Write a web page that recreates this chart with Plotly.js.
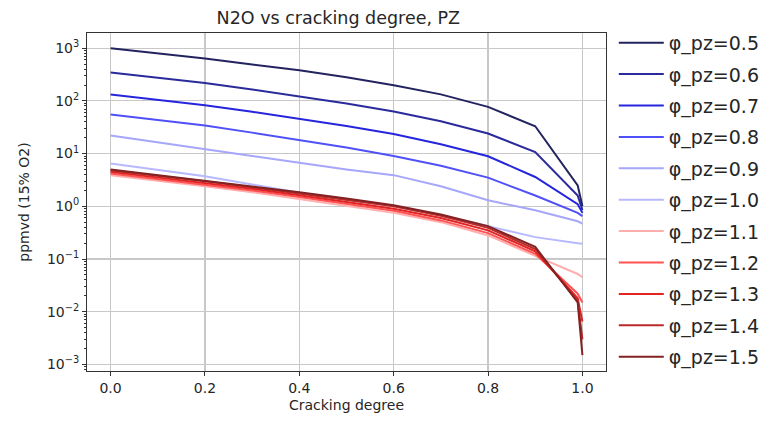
<!DOCTYPE html>
<html>
<head>
<meta charset="utf-8">
<script src="https://cdn.plot.ly/plotly-3.0.1.min.js"></script>
<style>html,body{margin:0;padding:0;background:#fff;}#chart{width:769px;height:425px;}</style>
</head>
<body>
<div id="chart"></div>
<script>
// Cracking degree values (x)
const crackingDegree = [0, 0.1, 0.2, 0.3, 0.4, 0.5, 0.6, 0.7, 0.8, 0.9, 0.99, 1.0];

// N2O (ppmvd, 15% O2) for each phi_pz
const phi05 = [1000, 800, 635, 490, 380, 280, 198, 133, 77, 33, 2.5, 1.0];
const phi06 = [344, 275, 218, 165, 122, 89, 63, 41, 24, 10.7, 1.6, 0.85];
const phi07 = [132, 105, 83, 62, 46, 33.5, 23.5, 15, 8.9, 3.6, 1.1, 0.75];
const phi08 = [55, 43, 34, 25, 18, 13, 9.0, 5.9, 3.5, 1.6, 0.75, 0.65];
const phi09 = [22, 16.5, 12.4, 9.0, 6.7, 5.0, 3.9, 2.4, 1.3, 0.84, 0.52, 0.47];
const phi10 = [6.5, 4.9, 3.7, 2.6, 1.8, 1.35, 1.0, 0.68, 0.42, 0.26, 0.2, 0.195];
const phi11 = [3.9, 3.1, 2.4, 1.85, 1.38, 1.03, 0.75, 0.5, 0.28, 0.115, 0.052, 0.045];
const phi12 = [4.2, 3.3, 2.6, 2.0, 1.5, 1.12, 0.82, 0.54, 0.31, 0.125, 0.022, 0.015];
const phi13 = [4.5, 3.55, 2.8, 2.15, 1.62, 1.22, 0.9, 0.6, 0.35, 0.14, 0.018, 0.0065];
const phi14 = [4.8, 3.8, 3.0, 2.3, 1.75, 1.33, 1.0, 0.66, 0.39, 0.155, 0.016, 0.003];
const phi15 = [5.0, 3.9, 3.1, 2.4, 1.85, 1.4, 1.05, 0.7, 0.42, 0.17, 0.015, 0.0015];

const seriesNames = ["φ_pz=0.5","φ_pz=0.6","φ_pz=0.7","φ_pz=0.8","φ_pz=0.9","φ_pz=1.0","φ_pz=1.1","φ_pz=1.2","φ_pz=1.3","φ_pz=1.4","φ_pz=1.5"];
const seriesValues = [phi05, phi06, phi07, phi08, phi09, phi10, phi11, phi12, phi13, phi14, phi15];
const seriesColors = ["#23235f","#2a2a9c","#2525dd","#5050f8","#a6a6fb","#b8b8ff","#ffaeae","#ff5252","#e32222","#bb2a2a","#822222"];

const yTickVals = [1e-3, 1e-2, 1e-1, 1, 10, 100, 1000];
const yTickText = ["10<sup>−3</sup>","10<sup>−2</sup>","10<sup>−1</sup>","10<sup>0</sup>","10<sup>1</sup>","10<sup>2</sup>","10<sup>3</sup>"];
const xTickVals = [0, 0.2, 0.4, 0.6, 0.8, 1.0];
const xTickText = ["0.0","0.2","0.4","0.6","0.8","1.0"];

const minorVals = [];
for (let e = -4; e <= 3; e++) for (let k = 2; k <= 9; k++) minorVals.push(k * Math.pow(10, e));

const traces = seriesNames.map((n, i) => ({
  x: crackingDegree, y: seriesValues[i], name: n, type: 'scatter', mode: 'lines',
  line: {color: seriesColors[i], width: 2}, legendgroup: 'g' + i
}));

const font = "DejaVu Sans, sans-serif";
const layout = {
  width: 769, height: 425,
  margin: {l: 87, r: 163, t: 33, b: 54, autoexpand: false},
  paper_bgcolor: '#fff', plot_bgcolor: '#fff',
  font: {family: font, color: '#262626'},
  title: {text: "N2O vs cracking degree, PZ", font: {family: font, size: 17.5, color: '#262626'}, x: 0.44, xanchor: 'center', y: 0.957, yanchor: 'middle'},
  xaxis: {
    range: [-0.05, 1.05], tickvals: xTickVals, ticktext: xTickText,
    showgrid: true, gridcolor: '#c8c8c8', gridwidth: 1.2,
    showline: true, linecolor: '#333', linewidth: 1, mirror: true,
    ticks: 'outside', ticklen: 4, tickcolor: '#333', zeroline: false,
    tickfont: {family: font, size: 14, color: '#262626'},
    title: {text: "Cracking degree", font: {family: font, size: 14, color: '#262626'}, standoff: 5}
  },
  yaxis: {
    type: 'log', range: [-3.125, 3.288], tickvals: yTickVals, ticktext: yTickText,
    showgrid: true, gridcolor: '#c8c8c8', gridwidth: 1.2,
    showline: true, linecolor: '#333', linewidth: 1, mirror: true,
    ticks: 'outside', ticklen: 4, tickcolor: '#333', zeroline: false,
    tickfont: {family: font, size: 14, color: '#262626'},
    minor: {tickvals: minorVals, ticks: 'outside', ticklen: 2, tickcolor: '#333', showgrid: false},
    title: {text: "ppmvd (15% O2)", font: {family: font, size: 14, color: '#262626'}, standoff: 14}
  },
  legend: {
    x: 1.015, xanchor: 'left', y: 1.027, yanchor: 'top',
    xref: 'paper', yref: 'paper',
    font: {family: font, size: 19, color: '#262626'},
    traceorder: 'grouped', tracegroupgap: 3.7, itemwidth: 45,
    maxheight: 420,
    bgcolor: 'rgba(0,0,0,0)', borderwidth: 0
  },
  showlegend: true
};

Plotly.newPlot('chart', traces, layout, {displayModeBar: false, staticPlot: true});
</script>
</body>
</html>
